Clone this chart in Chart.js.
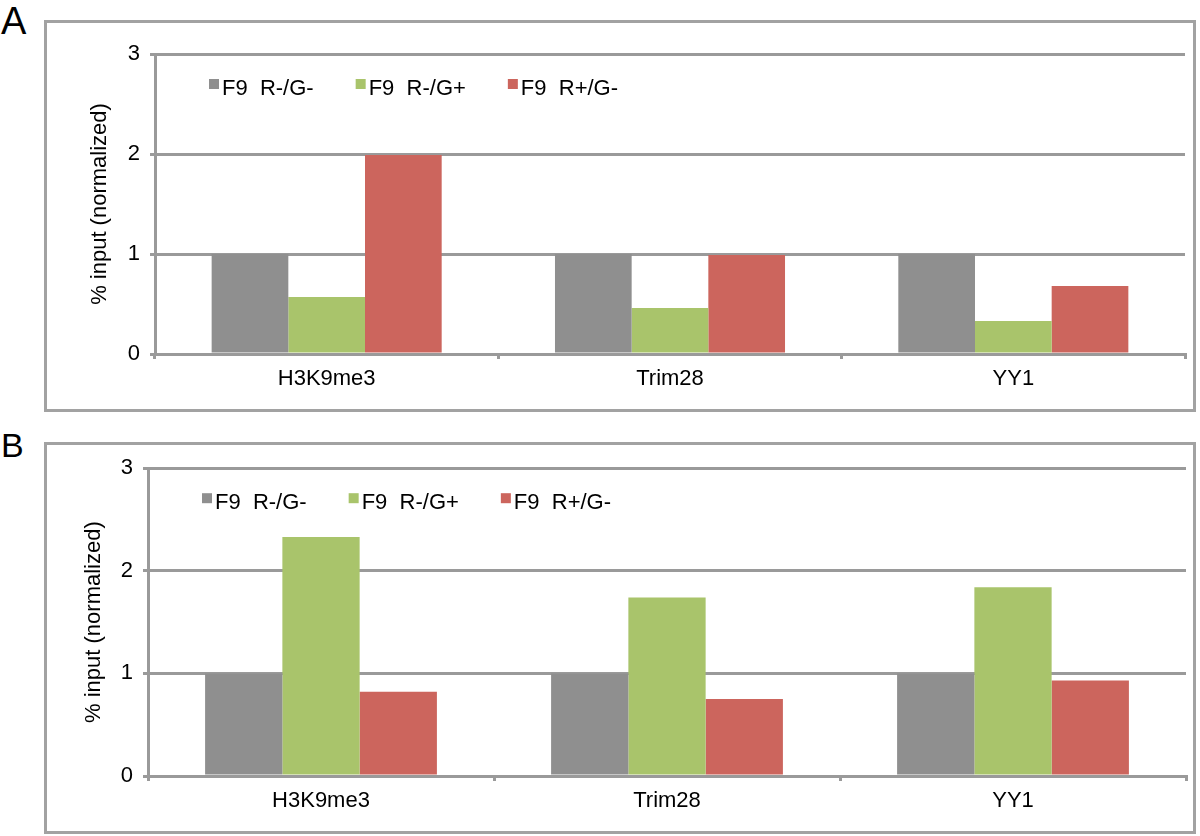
<!DOCTYPE html>
<html>
<head>
<meta charset="utf-8">
<script src="https://cdn.jsdelivr.net/npm/chart.js@4"></script>
<style>
    body { margin: 0; background: #fff; width: 1200px; height: 836px; position: relative; overflow: hidden; font-family: "Liberation Sans", Arial, sans-serif; }
    .panel { position: absolute; left: 44px; width: 1146px; height: 386px; border: 3px solid #a2a2a2; }
    .panel canvas { display: block; }
    .tag { position: absolute; left: 1px; color: #000; line-height: 1; }
</style>
</head>
<body>
<div class="tag" style="top:2px;font-size:38px;">A</div>
<div class="panel" style="top:20px;"><canvas id="chartA" width="1146" height="386"></canvas></div>
<div class="tag" style="top:428px;font-size:34px;">B</div>
<div class="panel" style="top:442px;"><canvas id="chartB" width="1146" height="386"></canvas></div>

<script>
const categories = ["H3K9me3", "Trim28", "YY1"];
const seriesLabels = ["F9  R-/G-", "F9  R-/G+", "F9  R+/G-"];
const seriesColors = ["#8f8f8f", "#a9c46b", "#cc655d"];
const yTicks = [0, 1, 2, 3];
const yTitle = "% input (normalized)";

// panel A
const aRminusGminus = [1.0, 1.0, 1.0];
const aRminusGplus = [0.57, 0.46, 0.33];
const aRplusGminus = [1.99, 0.99, 0.68];

// panel B
const bRminusGminus = [1.0, 1.0, 1.0];
const bRminusGplus = [2.33, 1.74, 1.84];
const bRplusGminus = [0.82, 0.75, 0.93];

const FONT = "'Liberation Sans', Arial, Helvetica, sans-serif";
const AXIS_GRAY = "#9a9a9a";

// legend drawn inside the plot area, like the Excel original
const insideLegend = {
    id: "insideLegend",
    afterDraw(chart){
        const ctx = chart.ctx;
        const area = chart.chartArea;
        const y = area.top + 35;
        let x = area.left + 54;
        ctx.save();
        ctx.font = "22px " + FONT;
        ctx.textBaseline = "middle";
        ctx.textAlign = "left";
        chart.data.datasets.forEach(ds => {
            ctx.fillStyle = ds.backgroundColor;
            ctx.fillRect(x, y - 10, 10, 10);
            ctx.fillStyle = "#000";
            ctx.fillText(ds.label, x + 13, y);
            x += 13 + ctx.measureText(ds.label).width + 42;
        });
        ctx.restore();
    }
};

function makeChart(id, values, pad){
    return new Chart(document.getElementById(id), {
        type: "bar",
        data: {
            labels: categories,
            datasets: values.map((v, i) => ({
                label: seriesLabels[i],
                data: v,
                backgroundColor: seriesColors[i],
                borderWidth: 0,
                barPercentage: 1.0,
                categoryPercentage: 0.67
            }))
        },
        options: {
            responsive: false,
            animation: false,
            layout: { padding: { left: pad.left, top: pad.top, right: pad.right, bottom: 0 } },
            plugins: { legend: { display: false }, tooltip: { enabled: false } },
            scales: {
                x: {
                    afterFit(scale){ scale.height = pad.xHeight; },
                    grid: { drawOnChartArea: false, drawTicks: true, tickLength: 5, color: AXIS_GRAY, lineWidth: 3, offset: true },
                    border: { color: AXIS_GRAY, width: 3 },
                    ticks: { color: "#000", font: { family: FONT, size: 22 }, padding: 7 }
                },
                y: {
                    min: yTicks[0],
                    max: yTicks[yTicks.length - 1],
                    afterFit(scale){ scale.width = pad.yWidth; },
                    afterBuildTicks(scale){ scale.ticks = yTicks.map(v => ({ value: v })); },
                    grid: { color: AXIS_GRAY, lineWidth: 3, tickLength: 5, drawTicks: true },
                    border: { color: AXIS_GRAY, width: 3 },
                    ticks: { color: "#000", font: { family: FONT, size: 22 }, padding: 10 },
                    title: { display: true, text: yTitle, color: "#000", font: { family: FONT, size: 22 }, padding: { top: 0, bottom: 0 } }
                }
            }
        },
        plugins: [insideLegend]
    });
}

makeChart("chartA", [aRminusGminus, aRminusGplus, aRplusGminus],
    { left: 40, yWidth: 68, top: 31, right: 8, xHeight: 55 });
makeChart("chartB", [bRminusGminus, bRminusGplus, bRplusGminus],
    { left: 34, yWidth: 67, top: 19, right: 7, xHeight: 55 });
</script>
</body>
</html>
